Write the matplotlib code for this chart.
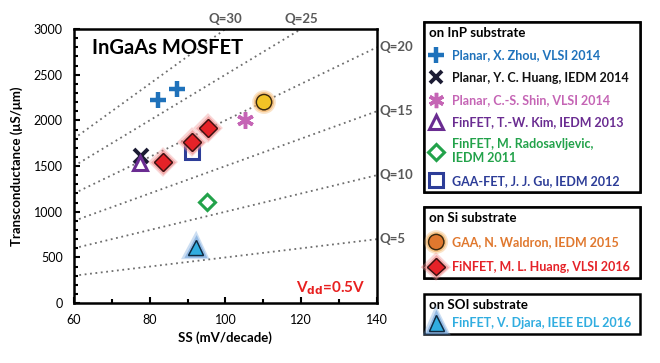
import numpy as np
import matplotlib.pyplot as plt
import matplotlib.patheffects as pe
from matplotlib.lines import Line2D
from matplotlib.ticker import MultipleLocator

plt.rcParams['font.family'] = ['Lato', 'DejaVu Sans']

# Q = gm / SS reference lines
q_values = [30, 25, 20, 15, 10, 5]
ss_range = [60, 140]

# data points (SS in mV/decade, gm in uS/um)
zhou_ss = [82.2, 87.2]
zhou_gm = [2220, 2345]
huang_yc_ss = [77.7]
huang_yc_gm = [1610]
shin_ss = [105.2]
shin_gm = [2005]
kim_ss = [77.4]
kim_gm = [1535]
rados_ss = [95.1]
rados_gm = [1105]
gu_ss = [91.2]
gu_gm = [1655]
waldron_ss = [110.2]
waldron_gm = [2200]
huang_ml_ss = [83.5, 91.2, 95.4]
huang_ml_gm = [1545, 1765, 1915]
djara_ss = [92.2]
djara_gm = [605]

fig = plt.figure(figsize=(6.6, 3.63), dpi=100)
ax = fig.add_axes([0.112, 0.165, 0.459, 0.755])

# dotted Q lines
x = np.array(ss_range)
for q in q_values:
    ax.plot(x, q * x, ls=(0, (1, 2)), color='#6e6e6e', lw=1.3, zorder=1)

gray = '#595959'
ax.text(100, 3040, 'Q=30', ha='center', va='bottom', color=gray, fontsize=9.5, fontweight='bold')
ax.text(120, 3040, 'Q=25', ha='center', va='bottom', color=gray, fontsize=9.5, fontweight='bold')
for q in [20, 15, 10, 5]:
    ax.text(140.8, q * 140, 'Q=%d' % q, ha='left', va='center', color=gray,
            fontsize=9.5, fontweight='bold', clip_on=False)


def halo(color):
    return [pe.withStroke(linewidth=6, foreground=color, alpha=0.35),
            pe.withStroke(linewidth=3.5, foreground=color, alpha=0.6)]


halo_gold = halo('#f3b060')
halo_red = halo('#ee8a8a')
halo_blue = halo('#6fa3dc')

ax.plot(zhou_ss, zhou_gm, ls='none', marker='+', ms=12, mew=3.2, color='#1f72bb', zorder=3)
ax.plot(huang_yc_ss, huang_yc_gm, ls='none', marker='x', ms=10, mew=2.8, color='#1b1b33', zorder=3)
ax.plot(shin_ss, shin_gm, ls='none', marker=(6, 2, 0), ms=12, mew=2.5, color='#c565b5', zorder=3)
ax.plot(kim_ss, kim_gm, ls='none', marker='^', ms=10, mew=2.2, mfc='none', mec='#6a2c91', zorder=3)
ax.plot(rados_ss, rados_gm, ls='none', marker='D', ms=8, mew=2.2, mfc='none', mec='#22a24a', zorder=3)
ax.plot(gu_ss, gu_gm, ls='none', marker='s', ms=10, mew=2.2, mfc='none', mec='#2d3d98', zorder=3)
ax.plot(waldron_ss, waldron_gm, ls='none', marker='o', ms=11, mew=1, mfc='#f2c326', mec='#3a2a10',
        path_effects=halo_gold, zorder=3)
ax.plot(huang_ml_ss, huang_ml_gm, ls='none', marker='D', ms=9, mew=1, mfc='#e52228', mec='#3a1010',
        path_effects=halo_red, zorder=4)
ax.plot(djara_ss, djara_gm, ls='none', marker='^', ms=11, mew=1, mfc='#30ade0', mec='#102a40',
        path_effects=halo_blue, zorder=3)

ax.text(64.8, 2790, 'InGaAs MOSFET', fontsize=14.5, fontweight='bold', va='center')
ax.text(137, 165, r'V$_{\mathbf{dd}}$=0.5V', color='#e82020', fontsize=11, fontweight='bold',
        ha='right', va='center')

ax.set_xlim(60, 140)
ax.set_ylim(0, 3000)
ax.xaxis.set_major_locator(MultipleLocator(20))
ax.xaxis.set_minor_locator(MultipleLocator(10))
ax.yaxis.set_major_locator(MultipleLocator(500))
ax.yaxis.set_minor_locator(MultipleLocator(100))
ax.tick_params(which='both', direction='in', labelsize=9, width=1.5)
ax.tick_params(which='major', length=4, pad=8)
ax.tick_params(which='minor', length=3)
for s in ax.spines.values():
    s.set_linewidth(1.8)
ax.set_xlabel('SS (mV/decade)', fontsize=9.5, fontweight='bold', labelpad=4)
ax.set_ylabel('Transconductance (\u03bcS/\u03bcm)', fontsize=9.5, fontweight='bold', labelpad=8)


# legends
def make_legend(handles, labels, colors, title, anchor, spacing):
    leg = fig.legend(handles, labels, loc='upper left', bbox_to_anchor=anchor, mode='expand',
                     title=title, alignment='left', frameon=True, fancybox=False, framealpha=1,
                     prop={'size': 9, 'weight': 'bold'}, title_fontproperties={'size': 9.5, 'weight': 'bold'},
                     handlelength=1.2, handletextpad=0.7, labelspacing=spacing, borderpad=0.4,
                     borderaxespad=0)
    leg.get_frame().set_edgecolor('black')
    leg.get_frame().set_linewidth(1.8)
    for t, c in zip(leg.get_texts(), colors):
        t.set_color(c)
    return leg


h1 = [
    Line2D([], [], ls='none', marker='+', ms=12, mew=3.2, color='#1f72bb'),
    Line2D([], [], ls='none', marker='x', ms=9, mew=2.8, color='#1b1b33'),
    Line2D([], [], ls='none', marker=(6, 2, 0), ms=11, mew=2.5, color='#c565b5'),
    Line2D([], [], ls='none', marker='^', ms=10, mew=2.2, mfc='none', mec='#6a2c91'),
    Line2D([], [], ls='none', marker='D', ms=8, mew=2.2, mfc='none', mec='#22a24a'),
    Line2D([], [], ls='none', marker='s', ms=10, mew=2.2, mfc='none', mec='#2d3d98'),
]
l1 = ['Planar, X. Zhou, VLSI 2014', 'Planar, Y. C. Huang, IEDM 2014', 'Planar, C.-S. Shin, VLSI 2014',
      'FinFET, T.-W. Kim, IEDM 2013', 'FinFET, M. Radosavljevic,\nIEDM 2011', 'GAA-FET, J. J. Gu, IEDM 2012']
c1 = ['#1f72bb', '#111111', '#c565b5', '#6a2c91', '#22a24a', '#2d3d98']
leg1 = make_legend(h1, l1, c1, 'on InP substrate', (0.642, 0.939, 0.328, 0), 0.82)
fig.add_artist(leg1)

h2 = [
    Line2D([], [], ls='none', marker='o', ms=11, mew=1, mfc='#e0782e', mec='#3a2a10', path_effects=halo_gold),
    Line2D([], [], ls='none', marker='D', ms=9, mew=1, mfc='#e52228', mec='#3a1010', path_effects=halo_red),
]
l2 = ['GAA, N. Waldron, IEDM 2015', 'FiNFET, M. L. Huang, VLSI 2016']
c2 = ['#e0782e', '#e52228']
leg2 = make_legend(h2, l2, c2, 'on Si substrate', (0.642, 0.430, 0.328, 0), 1.0)
fig.add_artist(leg2)

h3 = [Line2D([], [], ls='none', marker='^', ms=11, mew=1, mfc='#30ade0', mec='#102a40', path_effects=halo_blue)]
l3 = ['FinFET, V. Djara, IEEE EDL 2016']
c3 = ['#30ade0']
leg3 = make_legend(h3, l3, c3, 'on SOI substrate', (0.642, 0.190, 0.328, 0), 0.5)

fig.savefig('out.png', dpi=100)
